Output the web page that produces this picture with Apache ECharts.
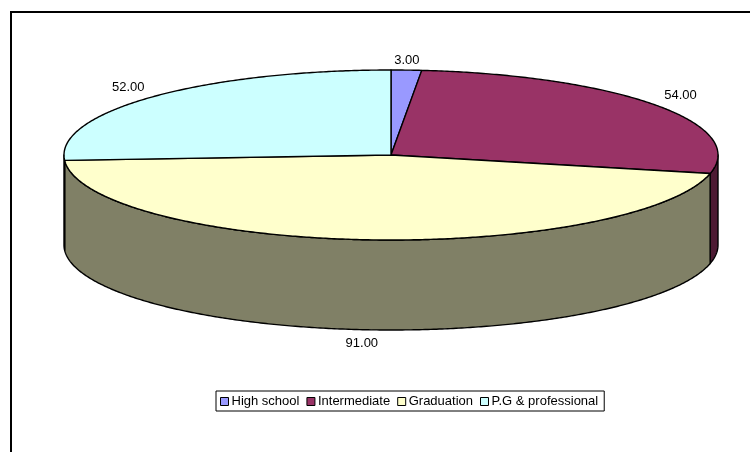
<!DOCTYPE html>
<html>
<head>
<meta charset="utf-8">
<style>html,body{margin:0;padding:0;background:#fff}#chart{width:750px;height:452px}</style>
<script src="https://cdn.jsdelivr.net/npm/echarts@6/dist/echarts.min.js"></script>
</head>
<body>
<div id="chart"></div>
<script>
// Education levels and their counts
const categories = ['High school', 'Intermediate', 'Graduation', 'P.G & professional'];
const values = [3, 54, 91, 52];
const topColors = ['#9999FF', '#993366', '#FFFFCC', '#CCFFFF'];
const sideColors = ['#4D4D80', '#4D1A33', '#808066', '#668080'];

// Tilted disc: centre, ellipse radii and wall height in pixels
const cx = 391, cy = 155, rx = 327, ry = 85, depth = 90;
const total = values.reduce((a, b) => a + b, 0);
const FONT = '"Liberation Sans", Arial, sans-serif';

// Point on the rim; the angle runs clockwise from twelve o'clock
const rim = (deg, dy) => {
  const t = deg * Math.PI / 180;
  return [cx + rx * Math.sin(t), cy - ry * Math.cos(t) + (dy || 0)];
};
const arc = (a, b, dy) => {
  const n = Math.max(2, Math.ceil(Math.abs(b - a) * 2));
  const pts = [];
  for (let i = 0; i <= n; i++) pts.push(rim(a + (b - a) * i / n, dy));
  return pts;
};

function renderSlice(params, api) {
  const i = params.seriesIndex;
  const a = api.value(0) / total * 360;
  const b = (api.value(0) + api.value(1)) / total * 360;
  const children = [];
  const stroke = { stroke: '#000', lineWidth: 1.4, lineJoin: 'round' };

  // The wall shows only along the front half of the disc
  const sa = Math.max(a, 90), sb = Math.min(b, 270);
  if (sb > sa) {
    children.push({
      type: 'polygon',
      shape: { points: arc(sa, sb, 0).concat(arc(sb, sa, depth)) },
      style: Object.assign({ fill: sideColors[i] }, stroke)
    });
  }
  children.push({
    type: 'polygon',
    shape: { points: [[cx, cy]].concat(arc(a, b, 0)) },
    style: Object.assign({ fill: topColors[i] }, stroke)
  });

  // Value label clear of the rim at the slice's middle angle
  const m = (a + b) / 2 * Math.PI / 180;
  const front = Math.cos(m) < 0;
  const rimY = cy - ry * Math.cos(m);
  children.push({
    type: 'text',
    z2: 10,
    style: {
      x: cx + (rx + 32) * Math.sin(m) - 1,
      y: front ? rimY + depth + 14 : rimY - 9.5,
      text: api.value(1).toFixed(2),
      fill: '#000',
      font: '13px ' + FONT,
      align: 'center',
      verticalAlign: 'middle'
    }
  });
  return { type: 'group', children };
}

let running = 0;
const series = categories.map((name, i) => {
  const start = running;
  running += values[i];
  return {
    type: 'custom',
    name,
    coordinateSystem: 'none',
    renderItem: renderSlice,
    itemStyle: { color: topColors[i] },
    data: [[start, values[i]]],
    silent: true
  };
});

const chart = echarts.init(document.getElementById('chart'), null, { renderer: 'canvas' });
chart.setOption({
  animation: false,
  backgroundColor: '#fff',
  graphic: [
    // Open frame along the top and left edges
    { type: 'line', shape: { x1: 11, y1: 12, x2: 750, y2: 12 }, style: { stroke: '#000', lineWidth: 2 } },
    { type: 'line', shape: { x1: 11, y1: 11, x2: 11, y2: 452 }, style: { stroke: '#000', lineWidth: 2 } }
  ],
  legend: {
    left: 216,
    top: 391,
    orient: 'horizontal',
    data: categories,
    icon: 'rect',
    itemWidth: 8,
    itemHeight: 8,
    itemGap: 7,
    padding: [4, 6, 3, 4],
    borderColor: '#000',
    borderWidth: 1,
    borderRadius: 0,
    backgroundColor: '#fff',
    selectedMode: false,
    itemStyle: { borderColor: '#000', borderWidth: 1 },
    textStyle: { color: '#000', fontFamily: FONT, fontSize: 13, padding: [0, 0, 0, -2] }
  },
  series
});
</script>
</body>
</html>
